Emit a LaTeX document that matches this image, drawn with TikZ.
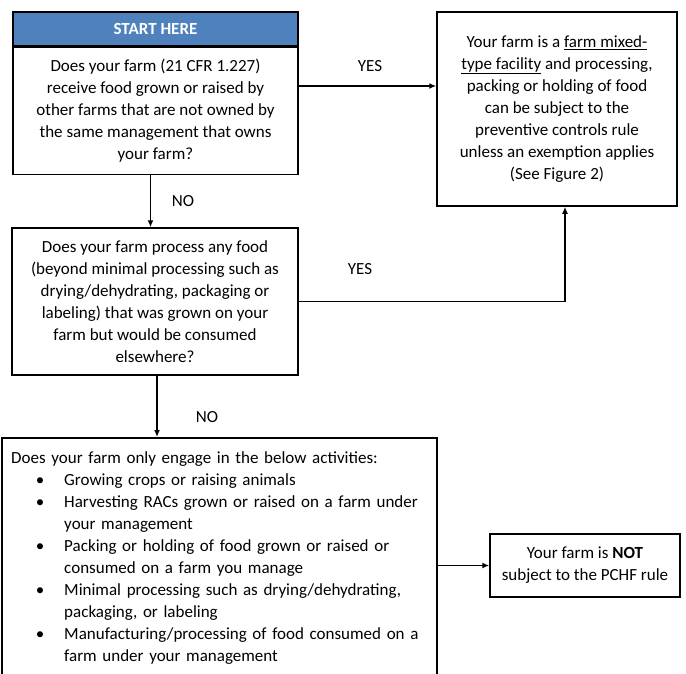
\documentclass[tikz,border=0pt]{standalone}
\usepackage{fontspec}
\setmainfont{Carlito}
\usepackage{tikz,xcolor}
\usetikzlibrary{arrows.meta}

\definecolor{headblue}{HTML}{4F81BD}

\newenvironment{farmlist}{\begin{list}{\textbullet}{%
  \setlength{\leftmargin}{53pt}\setlength{\labelsep}{20pt}%
  \setlength{\labelwidth}{10pt}\setlength{\itemsep}{0pt}%
  \setlength{\parsep}{0pt}\setlength{\topsep}{0pt}%
  \setlength{\partopsep}{0pt}}}{\end{list}}

\tikzset{
  box/.style={draw, line width=1.5pt, align=center, inner sep=0pt,
    font=\fontsize{17}{22}\selectfont},
  lbl/.style={font=\fontsize{17}{22}\selectfont},
  arr/.style={-{Latex[length=7pt,width=6pt]}, line width=1.5pt},
}

\begin{document}
\begin{tikzpicture}[x=1pt, y=-1pt]
\useasboundingbox (0,0) rectangle (686,673);

% boxes
\node[box, fill=headblue, text=white, minimum width=285pt, minimum height=34pt,
  font=\fontsize{17}{22}\selectfont\bfseries] (head) at (155.5,29) {START HERE};
\node[box, minimum width=285pt, minimum height=127pt, anchor=north] (q1) at (head.south)
  {Does your farm (21 CFR 1.227)\\ receive food grown or raised by\\ other farms that are not owned by\\ the same management that owns\\ your farm?};
\node[box, minimum width=240pt, minimum height=194pt] (r1) at (557,109)
  {Your farm is a \underline{farm mixed-}\\ \underline{type facility} and processing,\\ packing or holding of food\\ can be subject to the\\ preventive controls rule\\ unless an exemption applies\\ (See Figure 2)};
\node[box, minimum width=286pt, minimum height=147pt] (q2) at (155,301.5)
  {Does your farm process any food\\ (beyond minimal processing such as\\ drying/dehydrating, packaging or\\ labeling) that was grown on your\\ farm but would be consumed\\ elsewhere?};
\node[box, anchor=north west, align=left, text width=416pt, inner xsep=9.5pt, inner ysep=14pt] (q3) at (1,437)
  {\mbox{Does your farm only engage in the below activities:}
  \begin{farmlist}
  \item \mbox{Growing crops or raising animals}
  \item \mbox{Harvesting RACs grown or raised on a farm under}\\ your management
  \item \mbox{Packing or holding of food grown or raised or}\\ consumed on a farm you manage
  \item \mbox{Minimal processing such as drying/dehydrating,}\\ packaging, or labeling
  \item \mbox{Manufacturing/processing of food consumed on a}\\ farm under your management
  \end{farmlist}\par\rule{0pt}{30pt}};
\node[box, minimum width=190pt, minimum height=63pt] (n1) at (585,565.5)
  {Your farm is \textbf{NOT}\\ subject to the PCHF rule};

% labels
\node[lbl] (yes1) at (370,66) {YES};
\node[lbl] (no1) at (183,201) {NO};
\node[lbl] (yes2) at (360,269) {YES};
\node[lbl] (no2) at (207,417) {NO};

% arrows
\draw[arr] ([yshift=25pt]q1.east) -- ([yshift=25pt]q1.east -| r1.west);
\draw[arr] ([xshift=-5pt]q1.south) -- ([xshift=-5pt]q1.south |- q2.north);
\draw[arr] (q2.east) -| ([xshift=8pt]r1.south);
\draw[arr] ([xshift=2pt]q2.south) -- ([xshift=2pt]q2.south |- q3.north);
\draw[arr] (q3.east |- n1.west) -- (n1.west);

\end{tikzpicture}
\end{document}
